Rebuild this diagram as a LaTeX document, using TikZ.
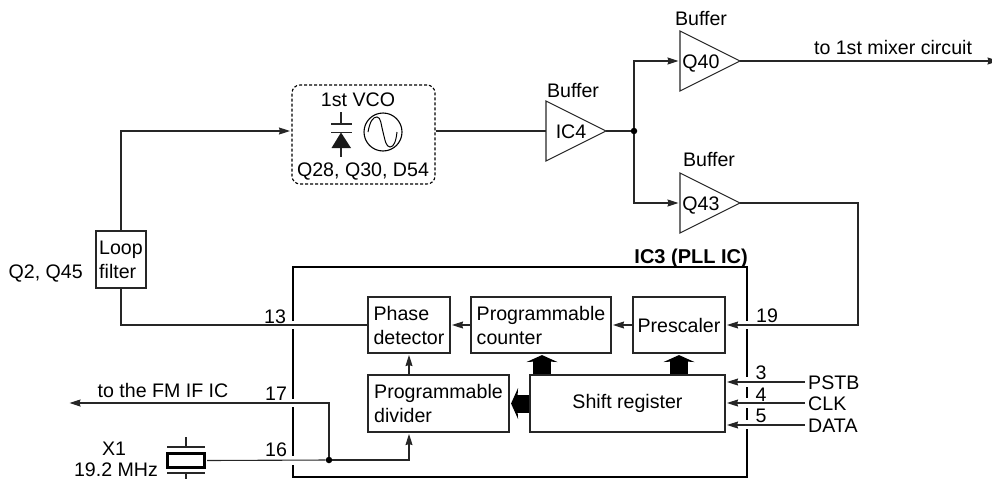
\documentclass[tikz,border=0pt]{standalone}
\usepackage{fontspec}
\setmainfont{Liberation Sans}
\usetikzlibrary{arrows.meta,calc}
\tikzset{
  wire/.style={line width=1.1pt,draw=black!85},
  arr/.style={wire,-{Stealth[length=11pt,width=7pt,inset=1pt]},shorten >=1.5pt},
  bigarr/.style={line width=18pt,draw=black,-{Stealth[length=7pt,width=31pt,inset=1pt,line width=0pt]},shorten >=1.5pt},
  blk/.style={draw=black!85,line width=1.1pt,inner sep=0pt,align=left,font=\fontsize{19.6}{24}\selectfont},
  lbl/.style={inner sep=0pt,anchor=base,font=\fontsize{19.6}{24}\selectfont},
  lbll/.style={lbl,anchor=base west},
  dotn/.style={circle,fill=black,inner sep=0pt,minimum size=6.5pt},
  ic/.style={line width=2.2pt,draw=black},
  tri/.style={line width=1.1pt,draw=black!85,line join=miter}
}
\begin{document}
\begin{tikzpicture}[x=1pt,y=-1pt]
\useasboundingbox (0,0) rectangle (992,479);
% IC3 outline
\draw[ic] (293,321) -- (293,267) -- (747,267) -- (747,321)
  (747,329) -- (747,377) (747,387) -- (747,398) (747,408) -- (747,420) (747,429) -- (747,477) -- (293,477) -- (293,465)
  (293,329) -- (293,399) (293,407) -- (293,456);
\node[lbl,anchor=base east,font=\fontsize{20}{24}\selectfont\bfseries] (ictitle) at (748,263) {IC3 (PLL IC)};
% blocks
\node[blk,minimum width=50pt,minimum height=57pt] (loop) at (121,259.5) {Loop\\filter};
\node[blk,minimum width=82pt,minimum height=56pt] (phase) at (409,325) {Phase\\detector};
\node[blk,minimum width=140pt,minimum height=56pt] (counter) at (541,325) {Programmable\\counter};
\node[blk,minimum width=92pt,minimum height=56pt] (pre) at (679,325) {Prescaler};
\node[blk,minimum width=141pt,minimum height=57pt] (divider) at (438.5,403.5) {Programmable\\divider};
\node[blk,minimum width=195pt,minimum height=57pt] (shift) at (627.5,403.5) {Shift register};
% VCO
\node[draw=black,line width=1.1pt,dash pattern=on 3pt off 2pt,rounded corners=8pt,minimum width=143pt,minimum height=99pt,inner sep=0pt] (vco) at (363.5,134.5) {};
\node[lbl] (vcot) at (358,106) {1st VCO};
\node[lbl] (vcob) at (363,176) {Q28, Q30, D54};
\draw[wire] (341,112) -- (341,124) (331,124) -- (352,124) (331,132.5) -- (352,132.5) (341,148) -- (341,157);
\fill[black!90] (341,132.5) -- (351,148) -- (331.5,148) -- cycle;
\node[circle,draw=black,line width=1.1pt,minimum size=38pt,inner sep=0pt] (osc) at (383,132) {};
\draw[line width=1pt] (368,132) .. controls (370,121) and (373,117) .. (377,117) .. controls (381,117) and (381,125) .. (383,132)
  .. controls (385,140) and (386,147) .. (390,147) .. controls (394,147) and (396,141) .. (397,132);
% buffers
\newcommand{\bufferblock}[4]{%
  \coordinate (#1in) at (#2,#3);
  \coordinate (#1out) at (#2+60,#3);
  \draw[tri] (#2,#3-30) -- (#1out) -- (#2,#3+30) -- cycle;
  \node[lbl] (#1lab) at (#2+#4,#3+7) {\MakeUppercase{#1}};
}
\bufferblock{ic4}{546}{131}{25}
\bufferblock{q40}{680}{61}{21}
\bufferblock{q43}{680}{203}{21}
\node[lbl] (b1) at (573,97) {Buffer};
\node[lbl] (b2) at (701,25) {Buffer};
\node[lbl] (b3) at (709,166) {Buffer};
% free ends
\coordinate (mixer) at (1000,61);
\coordinate (fmif) at (68,403);
% junctions
\node[dotn] (j1) at (634,131) {};
\node[dotn] (j2) at (329,460) {};
% crystal
\node[draw=black,line width=2.2pt,minimum width=37pt,minimum height=14pt,inner sep=0pt] (xtal) at (186,460.5) {};
\draw[wire] (186,437) -- (186,447) (167,447) -- (205,447) (167,473) -- (205,473) (186,473) -- (186,479);
% connectors
\draw[arr] (loop.north) |- (vco.west |- 0,131);
\draw[wire] (vco.east |- 0,131) -- (ic4in);
\draw[wire] (ic4out) -- (j1);
\draw[arr] (j1) |- (q40in);
\draw[arr] (j1) |- (q43in);
\draw[arr] (q40out) -- (mixer);
\draw[arr] (q43out) -| (858,325) -- (pre.east);
\draw[wire] (loop.south) |- (phase.west);
\draw[arr] (pre.west) -- (counter.east);
\draw[arr] (counter.west) -- (phase.east);
\draw[arr] (phase.south |- divider.north) -- (phase.south);
\draw[wire] (xtal.east) ++(1.5,0) -- (j2);
\draw[arr] (j2) -| (phase.south |- divider.south);
\draw[arr] (j2) |- (fmif);
\draw[bigarr] (shift.north -| 542,0) -- (counter.south -| 542,0);
\draw[bigarr] (shift.north -| pre.south) -- (pre.south);
\draw[bigarr] (shift.west) -- (divider.east);
% pin labels
\node[lbl] (p13) at (275,323) {13};
\node[lbl] (p17) at (276,400) {17};
\node[lbl] (p16) at (276,456) {16};
\node[lbl] (p19) at (767,322) {19};
\node[lbl] (p3) at (761,379) {3};
\node[lbl] (p4) at (761,401) {4};
\node[lbl] (p5) at (761,422) {5};
\node[lbl,anchor=base east] (q2) at (83,278) {Q2, Q45};
\node[lbl] (fm) at (163,397) {to the FM IF IC};
\node[lbl] (mx) at (893,54) {to 1st mixer circuit};
\node[lbl] (x1) at (114,455) {X1};
\node[lbl] (xf) at (116,476) {19.2 MHz};
% control inputs
\node[lbll] (pstb) at (808,389) {PSTB};
\node[lbll] (clk) at (808,410) {CLK};
\node[lbll] (data) at (808,432) {DATA};
\coordinate (pstbe) at (805,382);
\coordinate (clke) at (805,403);
\coordinate (datae) at (805,425);
\draw[arr] (pstbe) -- (pstbe -| shift.east);
\draw[arr] (clke) -- (clke -| shift.east);
\draw[arr] (datae) -- (datae -| shift.east);
\end{tikzpicture}
\end{document}
